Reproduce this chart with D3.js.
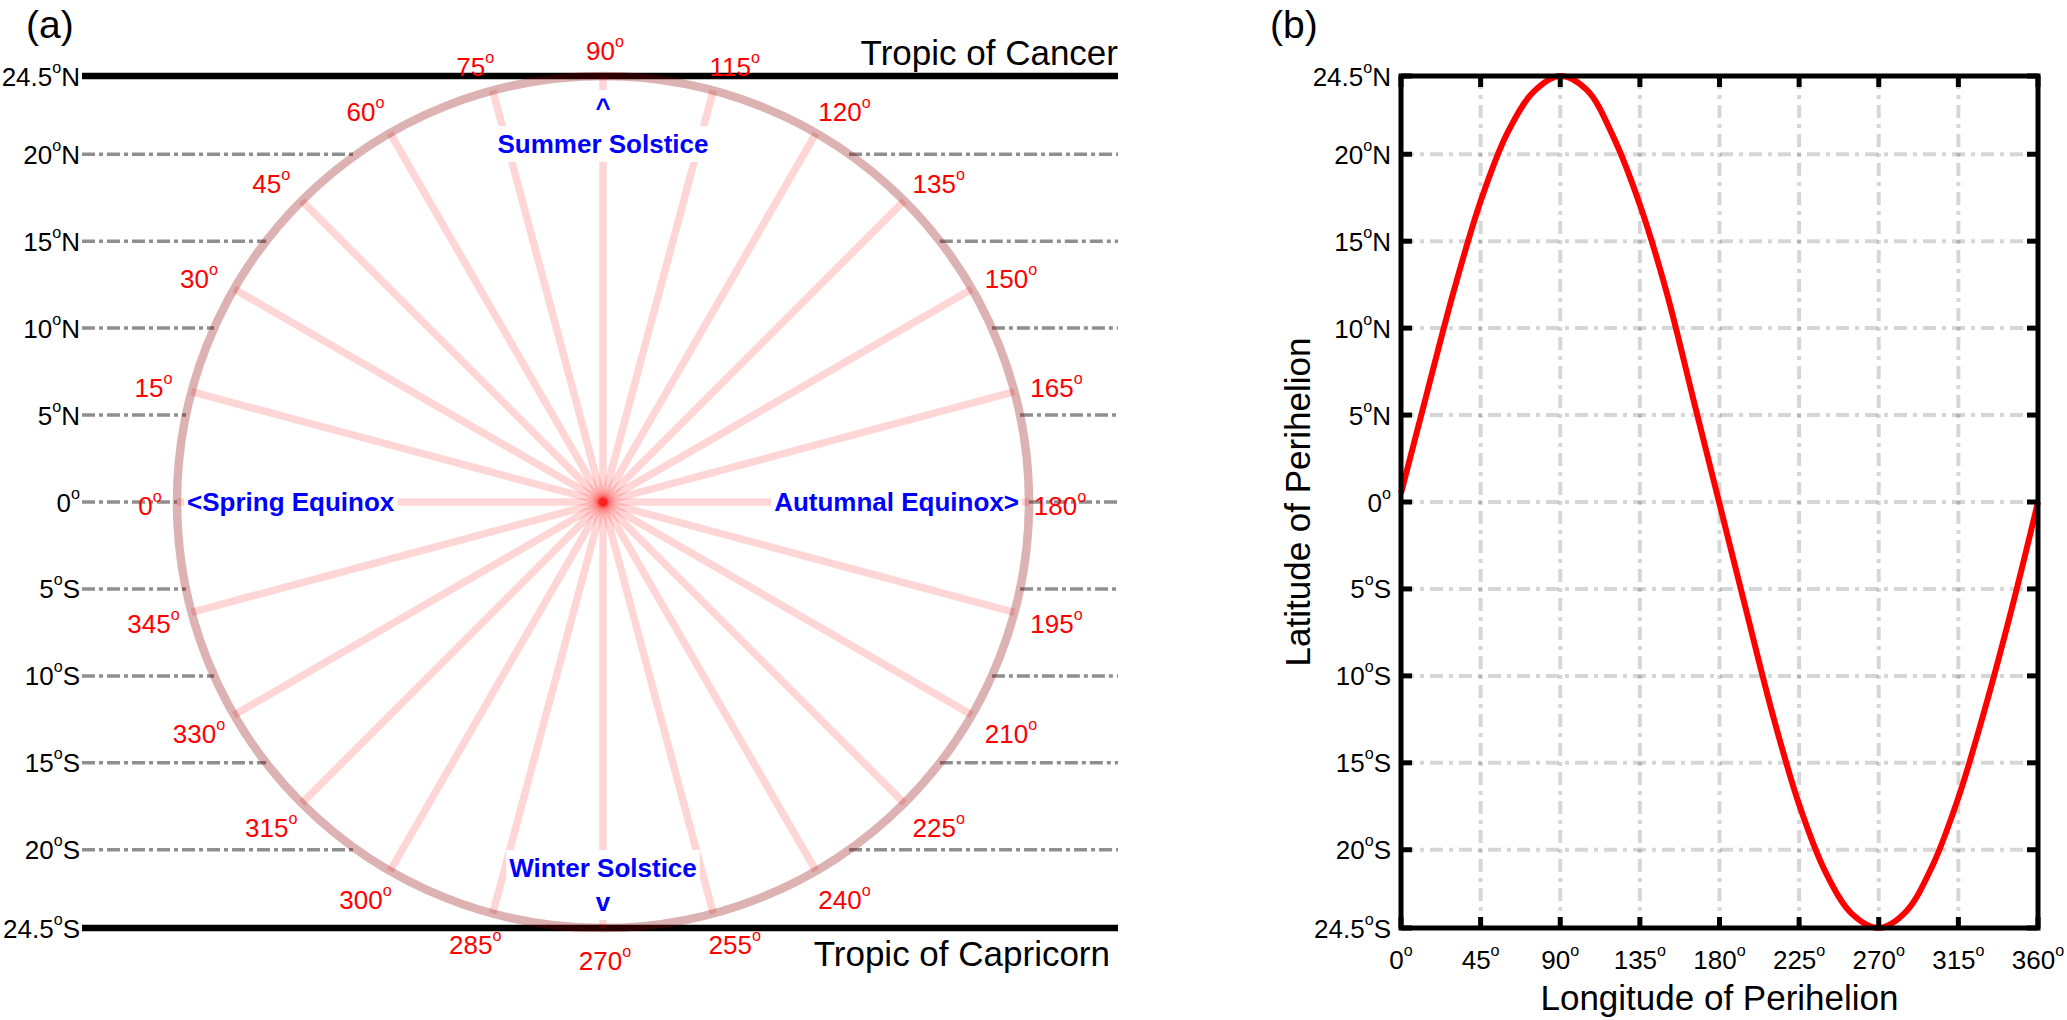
<!DOCTYPE html>
<html>
<head>
  <meta charset="utf-8">
  <title>Latitude of perihelion</title>
  <script src="https://d3js.org/d3.v7.min.js"></script>
  <style type="text/css">
    body {margin: 0; background: #fff;}
    text {font-family: "Liberation Sans", Arial, Helvetica, sans-serif;}
    .blue {font-weight: bold; fill: #0000ff; font-size: 26px;}
    .red {fill: #ff0000; font-size: 26px;}
    .tick {fill: #000; font-size: 26px;}
    .big {fill: #000; font-size: 35px;}
  </style>
</head>
<body>
  <div id="viz"></div>
<script type="text/javascript">

  // ---- data ----
  const latTicks = [24.5, 20, 15, 10, 5, 0, -5, -10, -15, -20, -24.5];
  const gridLats = [20, 15, 10, 5, 0, -5, -10, -15, -20];
  const tropics = [24.5, -24.5];

  const spokeAngles = [0, 15, 30, 45, 60, 75, 90, 105, 120, 135, 150, 165,
    180, 195, 210, 225, 240, 255, 270, 285, 300, 315, 330, 345];
  // labels as printed in the figure (105 reads "115")
  const spokeLabels = ["0", "15", "30", "45", "60", "75", "90", "115", "120", "135", "150", "165",
    "180", "195", "210", "225", "240", "255", "270", "285", "300", "315", "330", "345"];

  const lonTicks = [0, 45, 90, 135, 180, 225, 270, 315, 360];
  const curveLon = [0, 15, 30, 45, 60, 75, 90, 105, 120, 135, 150, 165, 180,
    195, 210, 225, 240, 255, 270, 285, 300, 315, 330, 345, 360];
  const curveLat = [0.5, 6.4, 12.2, 17.3, 21.2, 23.6, 24.5, 23.7, 21.0, 17.1, 12.1, 6.0, -0.1,
    -6.2, -12.2, -17.4, -21.3, -23.7, -24.5, -23.6, -21.0, -17.0, -11.9, -6.2, 0.0];

  // ---- layout ----
  const W = 2067, H = 1020;
  const TOP = 76, BOTTOM = 928;
  const A = {left: 82, right: 1118, cx: 603};
  const B = {left: 1401, right: 2038};

  const svg = d3.select("#viz").append("svg")
    .attr("width", W).attr("height", H);
  svg.append("rect").attr("width", W).attr("height", H).attr("fill", "#fff");

  const y = d3.scaleLinear().domain([-24.5, 24.5]).range([BOTTOM, TOP]);
  const cy = y(0);
  const R = y(0) - y(24.5);
  const r = d3.scaleLinear().domain([0, 24.5]).range([0, R]);

  // text with a superscript "o" for degrees
  function degText(sel, num, suffix, size) {
    sel.append("tspan").text(num);
    sel.append("tspan").attr("font-size", size * 0.62).attr("dy", -size * 0.5).text("o");
    if (suffix) sel.append("tspan").attr("dy", size * 0.5).text(suffix);
  }
  function latParts(v) {
    if (v === 0) return ["0", ""];
    return [String(Math.abs(v)), v > 0 ? "N" : "S"];
  }

  // =========== panel (a) ===========
  const gA = svg.append("g");

  gA.append("text").attr("x", 26).attr("y", 38).attr("font-size", 39).text("(a)");

  // dash-dot latitude lines outside the circle
  gridLats.forEach(function (lat) {
    const half = Math.sqrt(R * R - Math.pow(cy - y(lat), 2));
    [[A.left, A.cx - half], [A.cx + half, A.right]].forEach(function (seg) {
      gA.append("line")
        .attr("x1", seg[0]).attr("x2", seg[1])
        .attr("y1", y(lat)).attr("y2", y(lat))
        .attr("stroke", "#8f8f8f").attr("stroke-width", 3.5)
        .attr("stroke-dasharray", "13,4,4,4");
    });
  });

  // tropics
  gA.selectAll(".tropic").data(tropics).enter().append("line")
    .attr("x1", A.left).attr("x2", A.right)
    .attr("y1", d => y(d)).attr("y2", d => y(d))
    .attr("stroke", "#000").attr("stroke-width", 6.5);

  gA.append("text").attr("class", "big").attr("text-anchor", "end")
    .attr("x", A.right).attr("y", 65).text("Tropic of Cancer");
  gA.append("text").attr("class", "big").attr("text-anchor", "end")
    .attr("x", A.right - 8).attr("y", 966).text("Tropic of Capricorn");

  // latitude labels
  latTicks.forEach(function (lat) {
    const p = latParts(lat);
    const t = gA.append("text").attr("class", "tick").attr("text-anchor", "end")
      .attr("x", 80).attr("y", y(lat) + 9.5);
    degText(t, p[0], p[1], 26);
  });

  // spokes
  const rad = d => d * Math.PI / 180;
  gA.selectAll(".spoke").data(spokeAngles).enter().append("line")
    .attr("x1", A.cx).attr("y1", cy)
    .attr("x2", d => A.cx - r(24.5) * Math.cos(rad(d)))
    .attr("y2", d => cy - r(24.5) * Math.sin(rad(d)))
    .attr("stroke", "#ff0000").attr("stroke-opacity", 0.16)
    .attr("stroke-width", 7.5);

  // boxed blue labels, one white box per line
  function boxed(txt, anchor, x, yy) {
    const g = gA.append("g");
    const box = g.append("rect").attr("fill", "#fff");
    g.append("text").attr("class", "blue").attr("text-anchor", anchor)
      .attr("x", x).attr("y", yy).text(txt);
    const bb = g.node().getBBox();
    box.attr("x", bb.x - 3).attr("y", bb.y - 3)
      .attr("width", bb.width + 6).attr("height", bb.height + 6);
  }
  boxed("^", "middle", A.cx, 117);
  boxed("Summer Solstice", "middle", A.cx, 153);
  boxed("Winter Solstice", "middle", A.cx, 877);
  boxed("v", "middle", A.cx, 911);
  boxed("<Spring Equinox", "start", A.cx - r(24.5) + 10, cy + 9);
  boxed("Autumnal Equinox>", "end", A.cx + r(24.5) - 10, cy + 9);

  // circle
  gA.append("circle").attr("cx", A.cx).attr("cy", cy).attr("r", r(24.5))
    .attr("fill", "none").attr("stroke", "#8e0000").attr("stroke-opacity", 0.3)
    .attr("stroke-width", 8.5);

  // angle labels; off-axis ones are pushed a little further sideways
  spokeAngles.forEach(function (a, i) {
    const rr = r(24.5) + 29;
    const c = Math.cos(rad(a)), s = Math.sin(rad(a));
    const side = (Math.abs(c) > 0.1 && Math.abs(s) > 0.1) ? -Math.sign(c) * 12 : 0;
    const t = gA.append("text").attr("class", "red").attr("text-anchor", "middle")
      .attr("x", A.cx - rr * c + 2 + side)
      .attr("y", cy - rr * s + 13);
    degText(t, spokeLabels[i], "", 26);
  });

  // =========== panel (b) ===========
  const gB = svg.append("g");
  const x = d3.scaleLinear().domain([0, 360]).range([B.left, B.right]);

  gB.append("text").attr("x", 1270).attr("y", 38).attr("font-size", 39).text("(b)");

  // grid
  gB.selectAll(".vgrid").data(lonTicks.slice(1, -1)).enter().append("line")
    .attr("x1", d => x(d)).attr("x2", d => x(d))
    .attr("y1", TOP).attr("y2", BOTTOM)
    .attr("stroke", "#000").attr("stroke-opacity", 0.16).attr("stroke-width", 4)
    .attr("stroke-dasharray", "13,6,4,6");
  gB.selectAll(".hgrid").data(gridLats).enter().append("line")
    .attr("x1", B.left).attr("x2", B.right)
    .attr("y1", d => y(d)).attr("y2", d => y(d))
    .attr("stroke", "#000").attr("stroke-opacity", 0.16).attr("stroke-width", 4)
    .attr("stroke-dasharray", "13,6,4,6");

  // curve
  const line = d3.line().x(d => x(d[0])).y(d => y(d[1]))
    .curve(d3.curveCatmullRom.alpha(0.5));
  gB.append("path").datum(d3.zip(curveLon, curveLat))
    .attr("d", line).attr("fill", "none")
    .attr("stroke", "#ff0000").attr("stroke-width", 6)
    .attr("stroke-linejoin", "round");

  // inward ticks
  const TK = 11;
  lonTicks.forEach(function (d) {
    [[BOTTOM, BOTTOM - TK], [TOP, TOP + TK]].forEach(function (s) {
      gB.append("line").attr("x1", x(d)).attr("x2", x(d))
        .attr("y1", s[0]).attr("y2", s[1])
        .attr("stroke", "#000").attr("stroke-width", 5);
    });
  });
  latTicks.forEach(function (d) {
    [[B.left, B.left + TK], [B.right, B.right - TK]].forEach(function (s) {
      gB.append("line").attr("y1", y(d)).attr("y2", y(d))
        .attr("x1", s[0]).attr("x2", s[1])
        .attr("stroke", "#000").attr("stroke-width", 5);
    });
  });

  // frame
  gB.append("rect").attr("x", B.left).attr("y", TOP)
    .attr("width", B.right - B.left).attr("height", BOTTOM - TOP)
    .attr("fill", "none").attr("stroke", "#000").attr("stroke-width", 5);

  // tick labels
  latTicks.forEach(function (lat) {
    const p = latParts(lat);
    const t = gB.append("text").attr("class", "tick").attr("text-anchor", "end")
      .attr("x", B.left - 10).attr("y", y(lat) + 9.5);
    degText(t, p[0], p[1], 26);
  });
  lonTicks.forEach(function (lon) {
    const t = gB.append("text").attr("class", "tick").attr("text-anchor", "middle")
      .attr("x", x(lon)).attr("y", 969);
    degText(t, String(lon), "", 26);
  });

  gB.append("text").attr("class", "big").attr("text-anchor", "middle")
    .attr("x", (B.left + B.right) / 2).attr("y", 1010).text("Longitude of Perihelion");
  gB.append("text").attr("class", "big").attr("text-anchor", "middle")
    .attr("transform", "translate(1310," + cy + ") rotate(-90)")
    .text("Latitude of Perihelion");

</script>
</body>
</html>
